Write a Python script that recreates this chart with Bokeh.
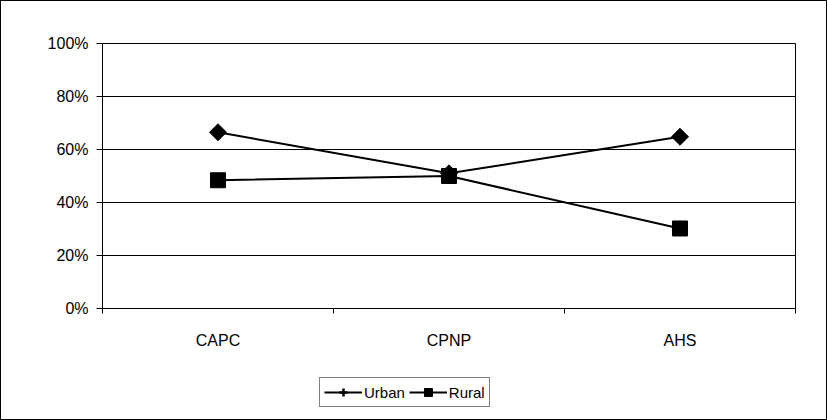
import numpy as np
from bokeh.plotting import figure
from bokeh.layouts import column
from bokeh.models import Range1d, FixedTicker, NumeralTickFormatter, Legend, LegendItem
from bokeh.embed import file_html
from bokeh.resources import INLINE

categories = ["CAPC", "CPNP", "AHS"]
urban = [0.665, 0.51, 0.648]
rural = [0.484, 0.50, 0.302]
y_ticks = [0, 0.2, 0.4, 0.6, 0.8, 1.0]
series_labels = ["Urban", "Rural"]

x = list(np.arange(len(categories)) + 0.5)
bounds = list(range(len(categories) + 1))

FONT = "Liberation Sans"
FS = "16px"
TOP_H = 350

p = figure(width=825, height=TOP_H, x_range=Range1d(0, len(categories)), y_range=Range1d(0, 1),
           output_backend="svg", toolbar_location=None,
           min_border_left=101, min_border_right=31, min_border_top=42, min_border_bottom=10)
p.background_fill_color = "white"
p.border_fill_color = "white"
p.outline_line_color = "black"
p.outline_line_width = 1

# x axis: category labels centred, tick marks at category boundaries
p.xaxis.ticker = FixedTicker(ticks=x, minor_ticks=bounds)
p.xaxis.major_label_overrides = {float(xi): c for xi, c in zip(x, categories)}
p.xaxis.major_tick_in = 0
p.xaxis.major_tick_out = 0
p.xaxis.minor_tick_in = 0
p.xaxis.minor_tick_out = 5
p.xaxis.minor_tick_line_color = "black"
p.xaxis.axis_line_color = "black"
p.xaxis.major_label_standoff = 18
p.xaxis.major_label_text_font = FONT
p.xaxis.major_label_text_font_size = FS
p.xaxis.major_label_text_color = "black"

# y axis
p.yaxis.ticker = FixedTicker(ticks=y_ticks)
p.yaxis.formatter = NumeralTickFormatter(format="0%")
p.yaxis.major_tick_in = 0
p.yaxis.major_tick_out = 6
p.yaxis.major_tick_line_color = "black"
p.yaxis.minor_tick_line_color = None
p.yaxis.axis_line_color = "black"
p.yaxis.major_label_standoff = 8
p.yaxis.major_label_text_font = FONT
p.yaxis.major_label_text_font_size = FS
p.yaxis.major_label_text_color = "black"

p.xgrid.grid_line_color = None
p.ygrid.grid_line_color = "black"
p.ygrid.grid_line_width = 1

p.line(x, urban, line_color="black", line_width=2)
p.scatter(x, urban, marker="square", angle=np.pi / 4, size=12, fill_color="black", line_color="black")
p.line(x, rural, line_color="black", line_width=2)
p.scatter(x, rural, marker="square", size=15, fill_color="black", line_color="black")

# legend strip below the chart; its renderers use the same series but sit
# outside this strip's visible y range, so only the legend swatches show
q = figure(width=825, height=418 - TOP_H, x_range=Range1d(0, len(categories)), y_range=Range1d(5, 6),
           output_backend="svg", toolbar_location=None,
           min_border_left=0, min_border_right=0, min_border_top=0, min_border_bottom=0)
q.axis.visible = False
q.grid.grid_line_color = None
q.outline_line_color = None
q.background_fill_color = "white"
q.border_fill_color = "white"

ul = q.line(x, urban, line_color="black", line_width=2)
um = q.scatter(x, urban, marker="cross", size=12, line_color="black", line_width=2.5)
rl = q.line(x, rural, line_color="black", line_width=2)
rm = q.scatter(x, rural, marker="square", size=15, fill_color="black", line_color="black")

legend = Legend(items=[LegendItem(label=series_labels[0], renderers=[ul, um]),
                       LegendItem(label=series_labels[1], renderers=[rl, rm])],
                orientation="horizontal", location=(217, 12),
                border_line_color="black", border_line_width=1,
                label_text_font=FONT, label_text_font_size="15px", label_text_color="black",
                glyph_width=38, glyph_height=20, padding=4, spacing=4, label_standoff=2,
                margin=0, background_fill_color="white", background_fill_alpha=1)
q.add_layout(legend, "center")

layout = column(p, q, spacing=0, styles={"border": "1px solid black"})

open("out.html", "w").write(file_html(layout, INLINE))
